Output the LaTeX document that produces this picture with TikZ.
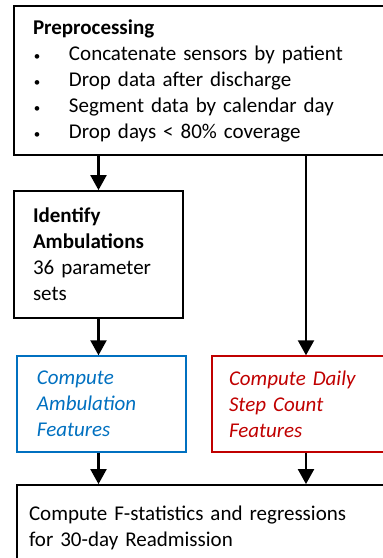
\documentclass[tikz,border=0pt]{standalone}
\usepackage{fontspec}
\setmainfont{Carlito}
\usetikzlibrary{arrows.meta}
\definecolor{ambblue}{RGB}{0,112,192}
\definecolor{stepred}{RGB}{192,0,0}
\newcommand{\bul}{\makebox[36pt][l]{\hspace{1pt}{\fontsize{13pt}{13pt}\selectfont\textbullet}}}

\begin{document}
\begin{tikzpicture}[x=1pt,y=-1pt,
    box/.style={draw,line width=1.8pt,rectangle,align=left,
      font=\fontsize{21pt}{26pt}\selectfont,inner ysep=0pt},
    flow/.style={line width=2.2pt,-{Triangle[width=16pt,length=15pt]}}]
        \useasboundingbox (0,0) rectangle (383,558);
        \clip (0,0) rectangle (383,558);
        \node[box,minimum width=386pt,minimum height=149pt,text width=348pt,inner xsep=19pt] (pre) at (207,80.5)
          {\textbf{Preprocessing}\\
           \bul Concatenate sensors by patient\\
           \bul Drop data after discharge\\
           \bul Segment data by calendar day\\
           \bul Drop days < 80\% coverage};
        \node[box,minimum width=169pt,minimum height=127pt,text width=131pt,inner xsep=19pt] (idf) at (98.5,254.5)
          {\textbf{Identify}\\ \textbf{Ambulations}\\ 36 parameter\\ sets};
        \node[box,draw=ambblue,line width=1.4pt,text=ambblue,minimum width=169pt,minimum height=96pt,text width=129pt,inner xsep=20pt] (amb) at (101.5,404)
          {\itshape Compute\\ Ambulation\\ Features};
        \node[box,draw=stepred,line width=1.4pt,text=stepred,minimum width=188pt,minimum height=96pt,text width=154pt,inner xsep=17pt] (steps) at (306,404)
          {\itshape Compute Daily\\ Step Count\\ Features};
        \node[box,minimum width=383pt,minimum height=86pt,text width=359pt,inner xsep=12pt] (stats) at (208.5,528)
          {Compute F-statistics and regressions\\ for 30-day Readmission};
        % arrows
        \draw[flow] (pre.south -| idf.north) -- (idf.north);
        \draw[flow] (pre.south -| steps.north) -- (steps.north);
        \draw[flow] (idf.south) -- (idf.south |- amb.north);
        \draw[flow] (amb.south -| idf.south) -- (stats.north -| idf.south);
        \draw[flow] (steps.south) -- (steps.south |- stats.north);
\end{tikzpicture}
\end{document}
